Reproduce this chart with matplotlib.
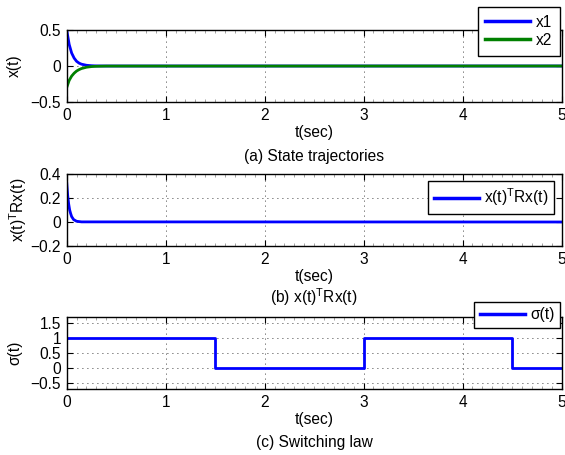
import numpy as np
import matplotlib
matplotlib.use("Agg")
import matplotlib.pyplot as plt
from matplotlib.ticker import MultipleLocator

plt.rcParams['font.family'] = ['Liberation Sans', 'DejaVu Sans']
plt.rcParams['mathtext.fontset'] = 'custom'
plt.rcParams['mathtext.rm'] = 'Liberation Sans'
plt.rcParams['font.size'] = 11.2

# (a) state trajectories
t_state = [0, 0.025, 0.05, 0.075, 0.1, 0.125, 0.15, 0.2, 0.25, 0.3, 0.4, 5]
x1 = [0.5, 0.30, 0.18, 0.11, 0.065, 0.04, 0.025, 0.01, 0.004, 0.001, 0.0, 0.0]
x2 = [-0.3, -0.2, -0.14, -0.10, -0.07, -0.05, -0.035, -0.017, -0.008, -0.004, -0.001, 0.0]

# (b) x(t)^T R x(t)
t_cost = [0, 0.01, 0.02, 0.03, 0.04, 0.05, 0.07, 0.1, 0.15, 5]
cost = [0.33, 0.22, 0.15, 0.10, 0.07, 0.045, 0.02, 0.006, 0.001, 0.0]

# (c) switching law
t_switch = [0, 1.5, 3.0, 4.5, 5.0]
sigma = [1, 0, 1, 0, 0]

W, H = 565, 455
fig = plt.figure(figsize=(W / 100, H / 100), dpi=100)


def px_axes(top, bottom, left=66.7, right=561.5):
    return fig.add_axes([left / W, 1 - bottom / H, (right - left) / W, (bottom - top) / H])


def style(ax, ylim, yticks):
    ax.set_xlim(0, 5)
    ax.set_ylim(*ylim)
    ax.set_yticks(yticks)
    ax.set_xticks([0, 1, 2, 3, 4, 5])
    ax.xaxis.set_minor_locator(MultipleLocator(0.1))
    ax.tick_params(which='both', direction='in', top=True, right=True, pad=4)
    ax.tick_params(which='major', length=4, width=0.8)
    ax.tick_params(which='minor', length=2, width=0.5, color='0.5')
    ax.grid(True, which='major', color='k', linestyle=(0, (1, 5)), linewidth=0.6)
    for s in ax.spines.values():
        s.set_linewidth(1.0)
    ax.set_xlabel('t(sec)', labelpad=2)


def legend(ax, x, y, pad=0.5):
    leg = ax.legend(loc='upper right', bbox_to_anchor=(x / W, 1 - y / H),
                    bbox_transform=fig.transFigure, borderaxespad=0,
                    fancybox=False, framealpha=1, edgecolor='k',
                    handlelength=2.9, handletextpad=0.35, labelspacing=0.2,
                    borderpad=pad)
    leg.get_frame().set_linewidth(1.0)
    for ln in leg.get_lines():
        ln.set_linewidth(2.5)


ax1 = px_axes(30, 102)
ax1.plot(t_state, x1, color='b', lw=2, label='x1')
ax1.plot(t_state, x2, color=(0, 0.5, 0), lw=2, label='x2')
style(ax1, (-0.5, 0.5), [-0.5, 0, 0.5])
ax1.set_yticklabels(['\u22120.5', '0', '0.5'])
ax1.set_ylabel('x(t)', labelpad=6)
legend(ax1, 560, 7)

ax2 = px_axes(174, 246)
ax2.plot(t_cost, cost, color='b', lw=2, label=r'x(t)$^{\rm T}$Rx(t)')
style(ax2, (-0.2, 0.4), [-0.2, 0, 0.2, 0.4])
ax2.set_yticklabels(['\u22120.2', '0', '0.2', '0.4'])
ax2.set_ylabel(r'x(t)$^{\rm T}$Rx(t)', labelpad=1)
legend(ax2, 554, 181, pad=0.35)

ax3 = px_axes(317, 389)
ax3.plot(t_switch, sigma, color='b', lw=2, drawstyle='steps-post', label='\u03c3(t)')
style(ax3, (-0.7, 1.7), [-0.5, 0, 0.5, 1, 1.5])
ax3.set_yticklabels(['\u22120.5', '0', '0.5', '1', '1.5'])
ax3.set_ylabel('\u03c3(t)', labelpad=6)
legend(ax3, 560, 302, pad=0.35)

fig.text(314 / W, 1 - 157 / H, '(a) State trajectories', ha='center', va='center')
fig.text(314 / W, 1 - 297 / H, r'(b) x(t)$^{\rm T}$Rx(t)', ha='center', va='center')
fig.text(314 / W, 1 - 442 / H, '(c) Switching law', ha='center', va='center')

fig.savefig('out.png', dpi=100)
